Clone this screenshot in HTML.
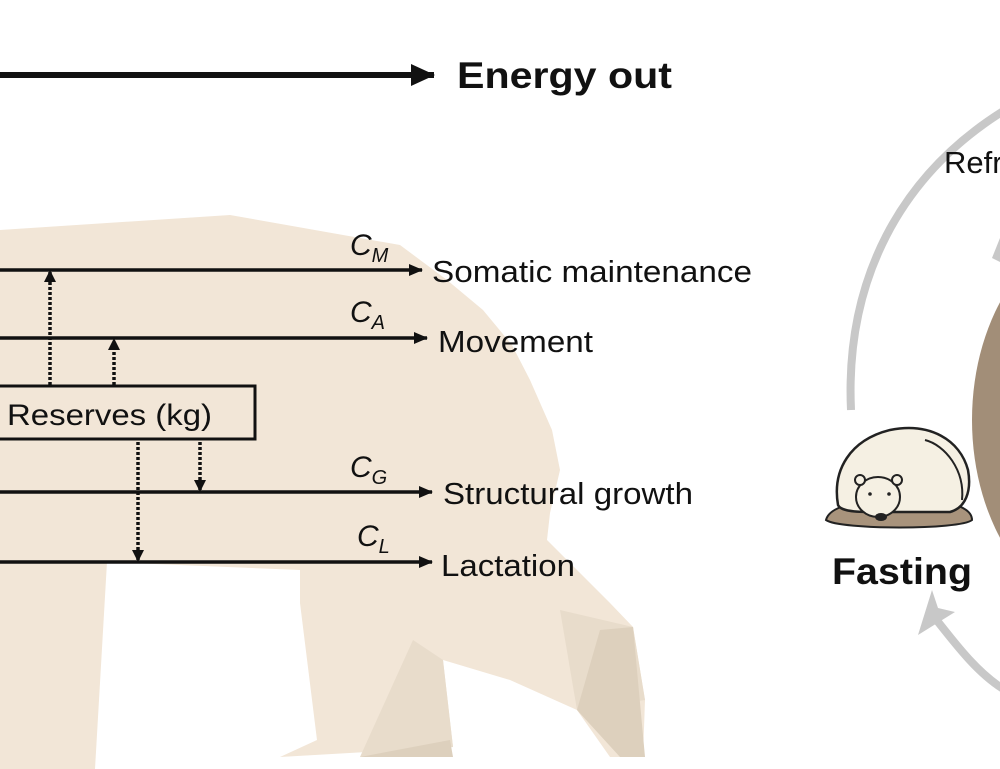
<!DOCTYPE html>
<html><head><meta charset="utf-8"><style>
html,body{margin:0;padding:0;background:#fff;}
svg{display:block;font-family:"Liberation Sans",Arial,sans-serif;}
</style></head><body>
<svg width="1000" height="769" viewBox="0 0 1000 769" xmlns="http://www.w3.org/2000/svg">
<defs>
<marker id="ah" markerWidth="14" markerHeight="12" refX="13" refY="6" orient="auto" markerUnits="userSpaceOnUse">
<path d="M0,0 L14,6 L0,12 z" fill="#111"/></marker>
<marker id="ah2" markerWidth="24" markerHeight="22" refX="23" refY="11" orient="auto" markerUnits="userSpaceOnUse">
<path d="M0,0 L24,11 L0,22 z" fill="#111"/></marker>
<marker id="ah3" markerWidth="12" markerHeight="12" refX="10" refY="6" orient="auto" markerUnits="userSpaceOnUse">
<path d="M0,0 L12,6 L0,12 z" fill="#111"/></marker>
</defs>
<!-- bear silhouette -->
<path d="M0,230 L230,215 L400,245 L447,280 L483,310 L512,345 L530,380 L552,430 L560,470 L550,513 L547,540 L610,603 L633,627 L645,700 L643,757 L610,757 L577,710 L510,680 L443,660 L453,747 L280,757 L317,740 L300,603 L300,570 L107,562 L95,769 L0,769 Z" fill="#f2e6d7"/>
<path d="M413,640 L443,660 L453,747 L360,757 Z" fill="#e8dccb"/>
<path d="M560,610 L633,627 L645,700 L577,710 Z" fill="#e8dccb"/>
<path d="M600,630 L633,627 L645,757 L620,757 L577,710 Z" fill="#ddd0bd"/>
<path d="M360,757 L450,740 L453,757 Z" fill="#ddd0bd"/>

<!-- energy out -->
<line x1="0" y1="75" x2="434" y2="75" stroke="#111" stroke-width="6" marker-end="url(#ah2)"/>
<text x="457" y="88" font-size="37" font-weight="bold" fill="#111" textLength="215" lengthAdjust="spacingAndGlyphs">Energy out</text>

<!-- flows -->
<g stroke="#111" stroke-width="3.5">
<line x1="0" y1="270" x2="422" y2="270" marker-end="url(#ah)"/>
<line x1="0" y1="338" x2="427" y2="338" marker-end="url(#ah)"/>
<line x1="0" y1="492" x2="432" y2="492" marker-end="url(#ah)"/>
<line x1="0" y1="562" x2="432" y2="562" marker-end="url(#ah)"/>
</g>
<g stroke="#111" stroke-width="3.5" stroke-dasharray="3,2">
<line x1="50" y1="385" x2="50" y2="272" marker-end="url(#ah3)"/>
<line x1="114" y1="385" x2="114" y2="340" marker-end="url(#ah3)"/>
<line x1="200" y1="442" x2="200" y2="490" marker-end="url(#ah3)"/>
<line x1="138" y1="442" x2="138" y2="560" marker-end="url(#ah3)"/>
</g>
<rect x="-10" y="386" width="265" height="53" fill="none" stroke="#111" stroke-width="3"/>
<text x="7" y="425" font-size="30" fill="#111" textLength="205" lengthAdjust="spacingAndGlyphs">Reserves (kg)</text>

<g font-size="31" fill="#111">
<text x="432" y="282" textLength="320" lengthAdjust="spacingAndGlyphs">Somatic maintenance</text>
<text x="438" y="352" textLength="155" lengthAdjust="spacingAndGlyphs">Movement</text>
<text x="443" y="504" textLength="250" lengthAdjust="spacingAndGlyphs">Structural growth</text>
<text x="441" y="576" textLength="134" lengthAdjust="spacingAndGlyphs">Lactation</text>
</g>
<g font-size="30" font-style="italic" fill="#111">
<text x="350" y="255">C<tspan font-size="20" dy="7">M</tspan></text>
<text x="350" y="322">C<tspan font-size="20" dy="7">A</tspan></text>
<text x="350" y="477">C<tspan font-size="20" dy="7">G</tspan></text>
<text x="357" y="546">C<tspan font-size="20" dy="7">L</tspan></text>
</g>

<!-- right side cycle -->
<path d="M851,410 C845,280 900,175 1005,110" fill="none" stroke="#c8c8c8" stroke-width="8"/>
<text x="944" y="173" font-size="31" fill="#111">Refr</text>
<ellipse cx="1110" cy="420" rx="138" ry="195" fill="#a28e78"/>
<path d="M992,258 L1000,238 L1000,262 Z" fill="#c8c8c8"/>
<path d="M935,618 C960,650 980,675 1005,690" fill="none" stroke="#c8c8c8" stroke-width="8"/>
<path d="M918,635 L955,612 L938,608 L932,590 Z" fill="#c8c8c8"/>

<!-- fasting bear -->
<path d="M826,520 C830,505 860,500 900,500 C940,498 972,505 972,520 C960,530 840,530 826,520 Z" fill="#a8937c" stroke="#222" stroke-width="2"/>
<path d="M838,505 C832,470 850,440 890,430 C930,422 960,440 968,470 C972,492 965,508 950,512 L870,512 C850,512 840,510 838,505 Z" fill="#f5f0e3" stroke="#222" stroke-width="2.5"/>
<path d="M925,440 C945,445 965,470 962,500" fill="none" stroke="#222" stroke-width="2"/>
<ellipse cx="878" cy="497" rx="22" ry="20" fill="#f5f0e3" stroke="#222" stroke-width="2"/>
<circle cx="860" cy="480" r="5" fill="#f5f0e3" stroke="#222" stroke-width="2"/>
<circle cx="897" cy="480" r="5" fill="#f5f0e3" stroke="#222" stroke-width="2"/>
<ellipse cx="881" cy="517" rx="6" ry="4" fill="#222"/>
<circle cx="870" cy="494" r="1.8" fill="#222"/><circle cx="889" cy="494" r="1.8" fill="#222"/>
<text x="832" y="584" font-size="37" font-weight="bold" fill="#111" textLength="140" lengthAdjust="spacingAndGlyphs">Fasting</text>
</svg>
</body></html>
